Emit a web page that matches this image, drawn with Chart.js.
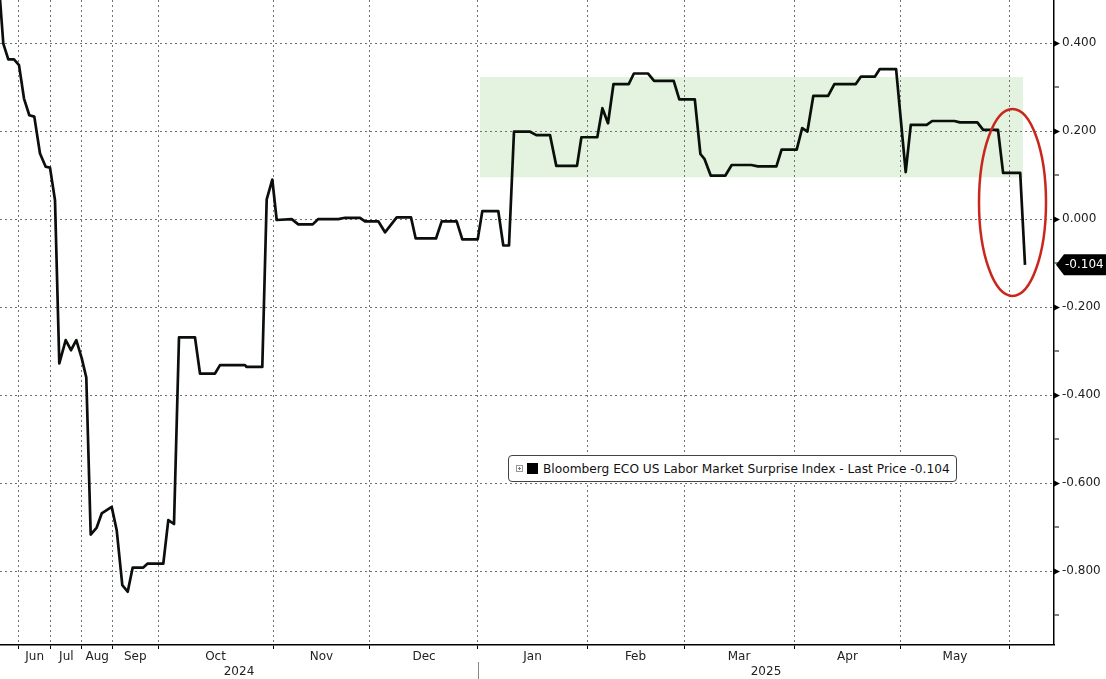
<!DOCTYPE html>
<html lang="en">
<head>
    <meta charset="UTF-8">
    <title>Bloomberg ECO US Labor Market Surprise Index</title>
    <script src="https://cdn.jsdelivr.net/npm/chart.js"></script>
    <style>
        body {
            margin: 0;
            background: #fff;
            font-family: "DejaVu Sans", sans-serif;
        }
        #wrap {
            position: relative;
            width: 1106px;
            height: 679px;
        }
        #legend {
            position: absolute;
            left: 508px;
            top: 455px;
            width: 447px;
            height: 25px;
            border: 1px solid #444;
            border-radius: 4px;
            background: #fff;
            font-size: 12.2px;
            color: #111;
            display: flex;
            align-items: center;
            white-space: nowrap;
        }
        #legend .ic {
            display: inline-block;
            width: 5px;
            height: 5px;
            margin-left: 7px;
            border: 1px solid #999;
            background:
                linear-gradient(#777, #777) center / 3px 1px no-repeat,
                linear-gradient(#777, #777) center / 1px 3px no-repeat;
        }
        #legend .sq {
            display: inline-block;
            width: 11px;
            height: 11px;
            margin-left: 4px;
            margin-right: 5px;
            background: #000;
        }
    </style>
</head>
<body>
<div id="wrap">
    <canvas id="chart" width="1106" height="679"></canvas>
    <div id="legend"><span class="ic"></span><span class="sq"></span><span id="legendText"></span></div>
</div>

<script>
    // series label and last value
    const seriesName = 'Bloomberg ECO US Labor Market Surprise Index';
    const lastPrice = -0.104;

    // x = observation index along the axis, y = index value
    const obs = [
        0, 0.66, 1.66, 2.8, 3.8, 4.8, 5.86, 6.86, 8, 9.14,
        10, 11, 11.86, 13.14, 14.2, 15.26, 16.34, 17.26, 18.14, 19.34,
        20.34, 22.34, 23.34, 24.46, 25.54, 26.54, 28.66, 29.54, 32.66, 33.66,
        34.8, 35.8, 39, 40, 43, 44, 49, 49.34, 52.46, 53.34,
        54.46, 55.34, 58.34, 59.66, 62.54, 63.66, 67.66, 69, 72, 73,
        75.66, 77, 79.34, 82.2, 83.14, 87.2, 88.34, 91.34, 92.46, 95.54,
        96.46, 99.66, 100.66, 101.8, 102.8, 105.94, 107.26, 110, 111.26, 115.4,
        116.28, 119.46, 120.48, 121.6, 122.7, 125.74, 126.78, 129.58, 130.82, 134.74,
        135.86, 138.96, 140.08, 140.88, 142.14, 145.08, 146.34, 150.26, 151.58, 155.28,
        156.32, 159.34, 160.44, 161.48, 162.66, 165.62, 166.88, 171.16, 172.2, 175,
        175.96, 179.22, 181.14, 182.16, 185.34, 186.44, 190.88, 191.98, 195.46, 196.64,
        199.6, 200.62, 204.04, 205
    ];
    const values = [
        0.500, 0.399, 0.363, 0.363, 0.350, 0.274, 0.236, 0.233, 0.149, 0.119,
        0.117, 0.043, -0.328, -0.275, -0.298, -0.275, -0.316, -0.360, -0.717, -0.701,
        -0.669, -0.654, -0.707, -0.832, -0.847, -0.792, -0.792, -0.783, -0.783, -0.684,
        -0.693, -0.269, -0.269, -0.351, -0.351, -0.332, -0.332, -0.336, -0.336, 0.045,
        0.090, -0.002, 0.000, -0.012, -0.012, 0.000, 0.000, 0.003, 0.003, -0.005,
        -0.005, -0.030, 0.004, 0.004, -0.044, -0.044, -0.005, -0.005, -0.046, -0.046,
        0.018, 0.018, -0.060, -0.060, 0.199, 0.199, 0.191, 0.191, 0.121, 0.121,
        0.186, 0.186, 0.252, 0.218, 0.307, 0.307, 0.331, 0.331, 0.314, 0.314,
        0.272, 0.272, 0.148, 0.137, 0.099, 0.099, 0.123, 0.123, 0.120, 0.120,
        0.158, 0.158, 0.207, 0.199, 0.280, 0.280, 0.307, 0.307, 0.324, 0.324,
        0.341, 0.341, 0.107, 0.214, 0.214, 0.223, 0.223, 0.220, 0.220, 0.203,
        0.203, 0.105, 0.105, -0.104
    ];

    // month boundaries (observation index) and labels
    const monthStarts = [3.72, 10.14, 16.4, 22.5, 31.6, 54.6, 74, 95.6, 117.4, 136.8, 158.8, 180.2, 201.8];
    const monthLabels = ['Jun', 'Jul', 'Aug', 'Sep', 'Oct', 'Nov', 'Dec', 'Jan', 'Feb', 'Mar', 'Apr', 'May'];
    const yearPos = [47.8, 153.2];
    const yearLabels = ['2024', '2025'];
    const yearBreak = 95.6;

    // y ticks every 0.1, labelled every 0.2
    const yTicks = [-0.9, -0.8, -0.7, -0.6, -0.5, -0.4, -0.3, -0.2, -0.1, 0, 0.1, 0.2, 0.3, 0.4];

    // shaded range and highlight ellipse (data units)
    const bandX = [96, 204.6];
    const bandY = [0.095, 0.323];
    const ring = { x: 202.5, y: 0.038, rx: 6.7, ry: 0.2125 };

    document.getElementById('legendText').textContent =
        seriesName + ' - Last Price ' + lastPrice.toFixed(3);

    // x tick list: month starts (grid), month labels, year labels
    const xTicks = [];
    monthStarts.forEach(v => xTicks.push({ value: v, kind: 'grid', label: '' }));
    monthLabels.forEach((m, i) => xTicks.push({
        value: (monthStarts[i] + monthStarts[i + 1]) / 2, kind: 'label', label: m
    }));
    yearLabels.forEach((y, i) => xTicks.push({ value: yearPos[i], kind: 'label', label: ['', y] }));

    const isMajor = v => Math.abs(Math.round(v * 10)) % 2 === 0;
    const gridColor = '#727272';

    const extras = {
        id: 'extras',
        beforeDraw(chart) {
            const { ctx, scales: { x, y } } = chart;
            ctx.save();
            ctx.fillStyle = '#e3f3df';
            const x0 = x.getPixelForValue(bandX[0]), x1 = x.getPixelForValue(bandX[1]);
            const y0 = y.getPixelForValue(bandY[1]), y1 = y.getPixelForValue(bandY[0]);
            ctx.fillRect(x0, y0, x1 - x0, y1 - y0);
            ctx.restore();
        },
        afterDatasetsDraw(chart) {
            const { ctx, scales: { x, y } } = chart;
            const cx = x.getPixelForValue(ring.x), cy = y.getPixelForValue(ring.y);
            const rx = x.getPixelForValue(ring.x + ring.rx) - cx;
            const ry = y.getPixelForValue(ring.y - ring.ry) - cy;
            ctx.save();
            ctx.strokeStyle = '#c9271d';
            ctx.lineWidth = 2.5;
            ctx.beginPath();
            ctx.ellipse(cx, cy, rx, ry, 0, 0, Math.PI * 2);
            ctx.stroke();
            ctx.restore();
        },
        afterDraw(chart) {
            const { ctx, chartArea, scales: { x, y } } = chart;
            ctx.save();
            // arrow heads on major y ticks
            ctx.fillStyle = '#000';
            yTicks.filter(isMajor).forEach(v => {
                const py = Math.round(y.getPixelForValue(v)) + 0.5;
                ctx.beginPath();
                ctx.moveTo(chartArea.right, py - 3);
                ctx.lineTo(chartArea.right + 6, py);
                ctx.lineTo(chartArea.right, py + 3);
                ctx.closePath();
                ctx.fill();
            });
            // year separator under the axis
            const bx = Math.round(x.getPixelForValue(yearBreak)) + 0.5;
            ctx.strokeStyle = '#888';
            ctx.lineWidth = 1;
            ctx.beginPath();
            ctx.moveTo(bx, chartArea.bottom + 17);
            ctx.lineTo(bx, chart.height);
            ctx.stroke();
            // last price tag
            const ly = y.getPixelForValue(lastPrice);
            const left = chartArea.right + 2;
            ctx.fillStyle = '#000';
            ctx.beginPath();
            ctx.moveTo(left, ly);
            ctx.lineTo(left + 8, ly - 10.5);
            ctx.lineTo(chart.width, ly - 10.5);
            ctx.lineTo(chart.width, ly + 10.5);
            ctx.lineTo(left + 8, ly + 10.5);
            ctx.closePath();
            ctx.fill();
            ctx.fillStyle = '#fff';
            ctx.font = '12px "DejaVu Sans"';
            ctx.textBaseline = 'middle';
            ctx.textAlign = 'left';
            ctx.fillText(lastPrice.toFixed(3), left + 9, ly + 0.5);
            ctx.restore();
        }
    };

    const ctx = document.getElementById('chart').getContext('2d');
    new Chart(ctx, {
        type: 'line',
        data: {
            datasets: [{
                label: seriesName,
                data: obs.map((v, i) => ({ x: v, y: values[i] })),
                borderColor: '#0b0f0b',
                borderWidth: 2.7,
                pointRadius: 0,
                tension: 0,
                fill: false,
                borderJoinStyle: 'round'
            }]
        },
        options: {
            responsive: false,
            animation: false,
            devicePixelRatio: 1,
            layout: { padding: 0 },
            plugins: {
                legend: { display: false },
                tooltip: { enabled: false }
            },
            scales: {
                x: {
                    type: 'linear',
                    position: 'bottom',
                    min: 0,
                    max: 210.8,
                    afterBuildTicks: scale => {
                        scale.ticks = xTicks.map(t => ({ value: t.value }));
                    },
                    afterFit: scale => {
                        scale.height = 34;
                        scale.paddingLeft = 0;
                        scale.paddingRight = 0;
                    },
                    ticks: {
                        autoSkip: false,
                        maxRotation: 0,
                        padding: 0,
                        color: '#222',
                        font: { family: 'DejaVu Sans', size: 12, lineHeight: 1.25 },
                        callback: (v, i) => xTicks[i] ? xTicks[i].label : ''
                    },
                    grid: {
                        color: c => xTicks[c.index] && xTicks[c.index].kind === 'grid' ? gridColor : 'rgba(0,0,0,0)',
                        lineWidth: c => xTicks[c.index] && xTicks[c.index].kind === 'grid' ? 1 : 0,
                        tickColor: c => xTicks[c.index] && xTicks[c.index].kind === 'grid' ? '#000' : 'rgba(0,0,0,0)',
                        tickWidth: 1,
                        tickLength: 4
                    },
                    border: { display: true, color: '#000', width: 1.5, dash: [2, 3] }
                },
                y: {
                    type: 'linear',
                    position: 'right',
                    min: -0.968,
                    max: 0.498,
                    afterBuildTicks: scale => {
                        scale.ticks = yTicks.map(v => ({ value: v }));
                    },
                    afterFit: scale => {
                        scale.width = 52;
                        scale.paddingTop = 0;
                        scale.paddingBottom = 0;
                    },
                    ticks: {
                        padding: 3,
                        color: '#222',
                        font: { family: 'DejaVu Sans', size: 12 },
                        callback: v => isMajor(v) ? v.toFixed(3) : ''
                    },
                    grid: {
                        color: c => c.tick && isMajor(c.tick.value) ? gridColor : 'rgba(0,0,0,0)',
                        lineWidth: c => c.tick && isMajor(c.tick.value) ? 1 : 0,
                        tickColor: '#000',
                        tickWidth: 1,
                        tickLength: 5
                    },
                    border: { display: true, color: '#000', width: 1.5, dash: [2, 3] }
                }
            }
        },
        plugins: [extras]
    });
</script>
</body>
</html>
